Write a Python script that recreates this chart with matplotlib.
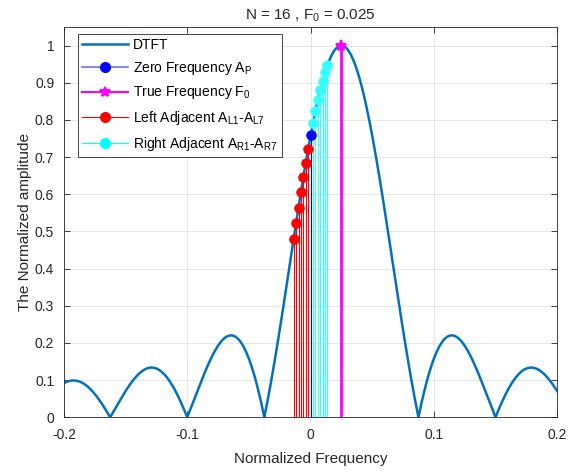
"""
DTFT of a 16-point window with true frequency F0 = 0.025,
with the zero-frequency, true-frequency and adjacent bin stems.
"""
import matplotlib
matplotlib.use("Agg")
import matplotlib.pyplot as plt
import numpy as np
from matplotlib.legend_handler import HandlerLine2D
from matplotlib.lines import Line2D

plt.rcParams["font.family"] = ["Liberation Sans", "DejaVu Sans"]
plt.rcParams["mathtext.default"] = "regular"

N  = 16
F0 = 0.025

# stems (bin spacing 1/512)
left_freq  = [-7/512, -6/512, -5/512, -4/512, -3/512, -2/512, -1/512]
left_amp   = [0.480, 0.523, 0.564, 0.606, 0.646, 0.685, 0.722]
zero_freq  = [0.0]
zero_amp   = [0.758]
right_freq = [1/512, 2/512, 3/512, 4/512, 5/512, 6/512, 7/512]
right_amp  = [0.792, 0.824, 0.853, 0.881, 0.905, 0.928, 0.947]
true_freq  = [F0]
true_amp   = [1.0]

XTICKS = [-0.2, -0.1, 0, 0.1, 0.2]
YTICKS = np.round(np.arange(0, 1.01, 0.1), 1)


class HandlerEndMarker(HandlerLine2D):
    """MATLAB-style legend entry: marker at the right end of the line."""
    def get_xdata(self, legend, xdescent, ydescent, width, height, fontsize):
        xdata = [-xdescent, -xdescent + width]
        return xdata, [-xdescent + width]


def stem(ax, x, y, color, lw, marker, ms, mew=0.5):
    for xi, yi in zip(x, y):
        ax.plot([xi, xi], [0, yi], color=color, linewidth=lw, zorder=3)
    ax.plot(x, y, linestyle="none", marker=marker, markersize=ms,
            markerfacecolor=color, markeredgecolor=color, markeredgewidth=mew,
            zorder=4)


def main() -> None:
    fig = plt.figure(figsize=(5.81, 4.73), dpi=100)
    ax = fig.add_axes([0.110, 0.118, 0.849, 0.825])

    f = np.linspace(-0.2, 0.2, 4001)
    dtft = np.abs(np.sinc(N * (f - F0)) / np.sinc(f - F0))
    ax.plot(f, dtft, color="#0072BD", linewidth=1.8, zorder=2)

    stem(ax, left_freq, left_amp, "#ff0000", 0.8, "o", 7)
    stem(ax, right_freq, right_amp, "#33ffff", 0.8, "o", 7)
    stem(ax, zero_freq, zero_amp, "#0000ff", 0.8, "o", 7)
    stem(ax, true_freq, true_amp, "#ff00ff", 2.0, "*", 8, mew=1.5)

    ax.set_xlim(-0.2, 0.2)
    ax.set_ylim(0, 1.05)
    ax.set_xticks(XTICKS)
    ax.set_xticklabels(["-0.2", "-0.1", "0", "0.1", "0.2"])
    ax.set_yticks(YTICKS)
    ax.set_yticklabels([f"{v:g}" for v in YTICKS])
    ax.tick_params(direction="in", length=4, width=0.6, labelsize=10,
                   top=True, right=True, colors="#262626", labelcolor="#262626")
    ax.tick_params(axis="x", pad=8)
    ax.tick_params(axis="y", pad=7)
    ax.grid(True, color="#e2e2e2", linewidth=0.6)
    ax.set_axisbelow(True)
    for s in ax.spines.values():
        s.set_color("#262626")
        s.set_linewidth(0.6)

    ax.set_xlabel("Normalized Frequency", fontsize=11, color="#262626", labelpad=7)
    ax.set_ylabel("The Normalized amplitude", fontsize=11, color="#262626", labelpad=2)
    ax.set_title("N = 16 , F$_{0}$ = 0.025", fontsize=11, color="#262626", pad=5)

    handles = [
        Line2D([], [], color="#0072BD", linewidth=1.8),
        Line2D([], [], color="#7070ff", linewidth=1.2, marker="o", markersize=7,
               markerfacecolor="#0000ff", markeredgecolor="#0000ff"),
        Line2D([], [], color="#ff00ff", linewidth=1.5, marker="*", markersize=7,
               markerfacecolor="#ff00ff", markeredgecolor="#ff00ff", markeredgewidth=1.5),
        Line2D([], [], color="#ff0000", linewidth=0.8, marker="o", markersize=7,
               markerfacecolor="#ff0000", markeredgecolor="#ff0000"),
        Line2D([], [], color="#00ffff", linewidth=0.8, marker="o", markersize=7,
               markerfacecolor="#00ffff", markeredgecolor="#00ffff"),
    ]
    labels = [
        "DTFT",
        "Zero Frequency A$_{P}$",
        "True Frequency F$_{0}$",
        "Left Adjacent A$_{L1}$-A$_{L7}$",
        "Right Adjacent A$_{R1}$-A$_{R7}$",
    ]
    hmap = {h: HandlerEndMarker() for h in handles[1:]}
    leg = ax.legend(handles, labels, loc="upper left", fontsize=10,
                    bbox_to_anchor=(0.028, 0.982), borderaxespad=0,
                    handlelength=3.3, handletextpad=0.4, labelspacing=0.55,
                    borderpad=0.3, fancybox=False, framealpha=1,
                    edgecolor="#262626", handler_map=hmap)
    leg.get_frame().set_linewidth(0.6)

    fig.savefig("out.png", dpi=100)
    plt.close(fig)


if __name__ == "__main__":
    main()
